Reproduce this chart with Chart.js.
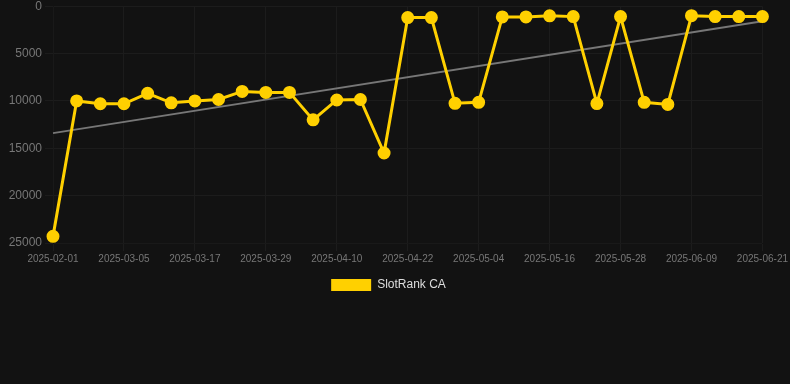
<!DOCTYPE html>
<html lang="en">
<head>
  <meta charset="UTF-8" />
  <title>SlotRank CA</title>
  <script src="https://cdn.jsdelivr.net/npm/chart.js"></script>
  <style>
    html, body {
      margin: 0;
      padding: 0;
      background: #121212;
      overflow: hidden;
    }
    #wrap {
      width: 790px;
      height: 305px;
      margin-top: -4px;
    }
  </style>
</head>
<body>
  <div id="wrap"><canvas id="rankChart"></canvas></div>

  <script>
    const labels = [
      '2025-02-01', '2025-02-25', '2025-03-01', '2025-03-05', '2025-03-09', '2025-03-13',
      '2025-03-17', '2025-03-21', '2025-03-25', '2025-03-29', '2025-04-02', '2025-04-06',
      '2025-04-10', '2025-04-14', '2025-04-18', '2025-04-22', '2025-04-26', '2025-04-30',
      '2025-05-04', '2025-05-08', '2025-05-12', '2025-05-16', '2025-05-20', '2025-05-24',
      '2025-05-28', '2025-06-01', '2025-06-05', '2025-06-09', '2025-06-13', '2025-06-17',
      '2025-06-21'
    ];
    const rank = [
      24300, 10000, 10300, 10300, 9200, 10200,
      10000, 9850, 9000, 9100, 9100, 12000,
      9900, 9850, 15500, 1200, 1200, 10250,
      10150, 1130, 1130, 1020, 1100, 10280,
      1100, 10150, 10370, 1000, 1100, 1100,
      1100
    ];
    // trend: only the two end values, line spans the gap
    const trendStart = 13400;
    const trendEnd = 1600;
    const trend = labels.map((_, i) => i === 0 ? trendStart : (i === labels.length - 1 ? trendEnd : null));
    const yTicks = [0, 5000, 10000, 15000, 20000, 25000];

    const ctx = document.getElementById('rankChart').getContext('2d');
    new Chart(ctx, {
      type: 'line',
      data: {
        labels,
        datasets: [
          {
            label: 'SlotRank CA',
            data: rank,
            borderColor: '#ffd000',
            backgroundColor: '#ffd000',
            borderWidth: 3,
            pointRadius: 5,
            pointBackgroundColor: '#ffd000',
            pointBorderColor: '#ffd000',
            tension: 0
          },
          {
            label: 'trend',
            data: trend,
            borderColor: '#777777',
            borderWidth: 2,
            pointRadius: 0,
            spanGaps: true,
            fill: false
          }
        ]
      },
      options: {
        responsive: true,
        maintainAspectRatio: false,
        animation: false,
        layout: { padding: { top: 0, right: 13, left: 0, bottom: 0 } },
        scales: {
          x: {
            ticks: {
              color: '#777',
              padding: 2,
              font: { family: 'Liberation Sans', size: 10 },
              maxRotation: 0,
              autoSkip: true,
              callback: function (val, i) { return i % 3 === 0 ? labels[i] : null; }
            },
            grid: { color: '#1c1c1c' }
          },
          y: {
            reverse: true,
            min: 0,
            max: 25000,
            afterBuildTicks: axis => { axis.ticks = yTicks.map(v => ({ value: v })); },
            afterFit: axis => { axis.width = 53; },
            ticks: {
              color: '#777',
              font: { family: 'Liberation Sans', size: 12 },
              callback: v => String(v)
            },
            grid: { color: '#1c1c1c' }
          }
        },
        plugins: {
          legend: {
            position: 'bottom',
            labels: {
              color: '#dddddd',
              padding: 12,
              font: { family: 'Liberation Sans', size: 12 },
              filter: item => item.text !== 'trend',
              generateLabels: chart => Chart.defaults.plugins.legend.labels.generateLabels(chart)
                .map(item => Object.assign(item, { lineWidth: 0 }))
            }
          },
          tooltip: { enabled: false }
        }
      }
    });
  </script>
</body>
</html>
